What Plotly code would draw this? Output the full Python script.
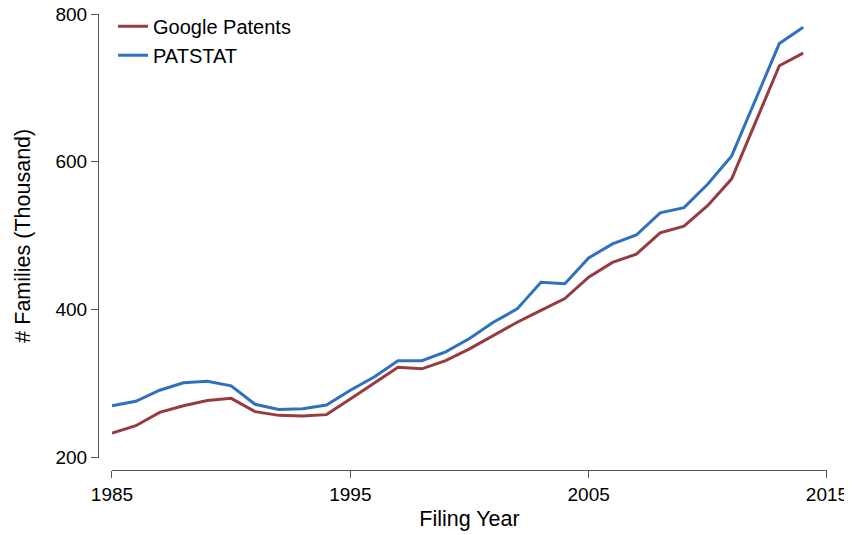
import plotly.graph_objects as go

years = list(range(1985, 2015))

# families in thousands
google_patents = [233, 243, 261, 270, 277, 280, 262, 257, 256, 258,
                  279, 300, 322, 320, 331, 347, 365, 383, 399, 415,
                  444, 464, 475, 504, 513, 541, 577, 653, 730, 747]
patstat = [270, 276, 291, 301, 303, 297, 272, 265, 266, 271,
           291, 309, 331, 331, 343, 361, 383, 401, 437, 435,
           470, 489, 501, 531, 538, 570, 608, 684, 760, 782]

x_ticks = [1985, 1995, 2005, 2015]
y_ticks = [200, 400, 600, 800]

red = "#963c40"
blue = "#2f71c0"
font = "Liberation Sans, Arial, sans-serif"

fig = go.Figure()
fig.add_trace(go.Scatter(x=years, y=google_patents, mode="lines", name="Google Patents",
                         line=dict(color=red, width=3)))
fig.add_trace(go.Scatter(x=years, y=patstat, mode="lines", name="PATSTAT",
                         line=dict(color=blue, width=3)))

# page has an 8px body margin, so the figure is a bit smaller than the window
fig.update_layout(
    width=844, height=527,
    margin=dict(l=90, r=25, t=6, b=65, autoexpand=False),
    plot_bgcolor="white", paper_bgcolor="white",
    font=dict(family=font, size=19, color="black"),
    showlegend=True,
    legend=dict(x=0.0206, y=1.016, xanchor="left", yanchor="top",
                bgcolor="rgba(0,0,0,0)", font=dict(size=20),
                tracegroupgap=0, itemwidth=30),
    xaxis=dict(domain=[0.0192, 1], range=[1985, 2015], tickvals=x_ticks,
               showgrid=False, zeroline=False, showline=True, linecolor="#555",
               linewidth=1.2, ticks="outside", ticklen=7, tickcolor="#555",
               tickfont=dict(size=19), ticklabeloverflow="allow",
               anchor="free", position=0,
               title=dict(text="Filing Year", standoff=7, font=dict(size=21.5))),
    yaxis=dict(domain=[0.0274, 1], range=[200, 800], tickvals=y_ticks,
               showgrid=False, zeroline=False, showline=True, linecolor="#555",
               linewidth=1.2, ticks="outside", ticklen=7, tickcolor="#555",
               tickfont=dict(size=19), ticklabeloverflow="allow",
               anchor="free", position=0,
               title=dict(text="# Families (Thousand)", standoff=17, font=dict(size=21.5))),
)

fig.write_html("out.html")
